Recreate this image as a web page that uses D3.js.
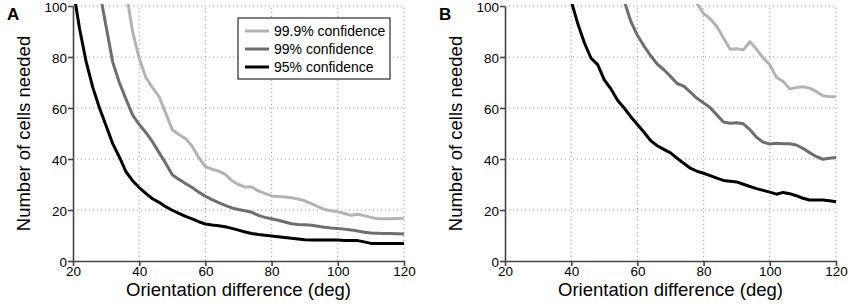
<!DOCTYPE html>
<html lang="en">
<head>
  <meta charset="UTF-8">
  <title>Cells needed vs orientation difference</title>
  <script src="https://d3js.org/d3.v7.min.js"></script>
  <style>
    body {
      margin: 0;
      background: #fff;
    }
    svg {
      display: block;
      font-family: "Liberation Sans", Arial, sans-serif;
    }
    .grid line {
      stroke: #9a9a9a;
      stroke-width: 1;
      stroke-dasharray: 1.2, 2.8;
    }
    .axis path, .axis line {
      stroke: #444;
      stroke-width: 1.6;
    }
    .axis text {
      font-size: 13.5px;
      fill: #000;
    }
  </style>
</head>
<body>
<svg width="851" height="307"></svg>

<script>
  // orientation difference (deg), shared by every series
  const angles = [20, 22, 24, 26, 28, 30, 32, 34, 36, 38, 40, 42, 44, 46, 48, 50, 52, 54, 56, 58,
                  60, 62, 64, 66, 68, 70, 72, 74, 76, 78, 80, 82, 84, 86, 88, 90, 92, 94, 96, 98,
                  100, 102, 104, 106, 108, 110, 112, 114, 116, 118, 120];

  const seriesNames = ["99.9% confidence", "99% confidence", "95% confidence"];
  const seriesColors = ["#b3b3b3", "#6e6e6e", "#000000"];

  const xTicks = [20, 40, 60, 80, 100, 120];
  const yTicks = [0, 20, 40, 60, 80, 100];

  // panel A
  const a999 = [null, null, null, null, null, null, null, null, 106, 90, 79.5, 72, 68, 64.5, 58, 51.5, 49.6, 48, 45, 40.5,
                37, 36, 35.3, 34, 31.5, 30, 29, 29, 27.5, 26.5, 25.5, 25.3, 25.1, 24.8, 24.3, 23.6, 22.5, 21.3, 20.2, 19.7,
                19.3, 18.6, 17.9, 18.3, 17.8, 17.1, 16.6, 16.6, 16.6, 16.7, 16.8];
  const a99 = [null, null, null, null, 106, 92, 78, 70, 63.5, 57.3, 53.5, 50.4, 46.8, 42.5, 38.3, 33.8, 32, 30.4, 28.8, 27,
               25.4, 24.1, 22.9, 21.8, 20.8, 20.2, 19.7, 19.1, 17.9, 17.1, 16.6, 16, 15.3, 14.6, 14.3, 14.2, 14, 13.6, 13.2, 12.9,
               12.7, 12.5, 12.2, 11.8, 11.3, 11, 10.9, 10.8, 10.8, 10.7, 10.6];
  const a95 = [107, 91, 78, 68, 60, 53, 46, 40.8, 35, 31.5, 28.8, 26.5, 24.4, 23, 21.3, 19.9, 18.7, 17.5, 16.5, 15.4,
               14.5, 14.1, 13.8, 13.4, 12.8, 12.1, 11.4, 10.8, 10.4, 10.1, 9.8, 9.5, 9.2, 8.9, 8.6, 8.3, 8.2, 8.2, 8.2, 8.2,
               8.2, 8.0, 8.0, 8.0, 7.5, 6.9, 6.9, 6.9, 6.9, 6.9, 6.9];

  // panel B
  const b999 = [null, null, null, null, null, null, null, null, null, null, null, null, null, null, null, null, null, null, null, null,
                null, null, null, null, null, null, null, null, null, 101, 97, 95, 92, 87.5, 83, 83.2, 82.8, 86, 83, 79.6,
                77, 72, 70.5, 67.5, 68, 68.3, 67.8, 66.5, 64.8, 64.5, 64.4];
  const b99 = [null, null, null, null, null, null, null, null, null, null, null, null, null, null, null, null, null, null, 102, 94,
               88.5, 84.3, 80.5, 77.2, 75, 72.4, 69.6, 68.6, 66.2, 63.8, 62, 60.1, 57.3, 54.5, 54, 54.2, 53.8, 51.5, 48.5, 46.6,
               45.9, 46.2, 46, 46, 45.5, 44.2, 42.5, 41, 39.9, 40.3, 40.6];
  const b95 = [null, null, null, null, null, null, null, null, null, null, 102, 93, 85.5, 79.5, 77, 71, 67.5, 63, 60, 56.6,
               53.5, 50.5, 47.2, 45.2, 43.8, 42.4, 40.3, 38.3, 36.4, 35.2, 34.4, 33.5, 32.5, 31.6, 31.3, 31, 30.1, 29.2, 28.4, 27.7,
               27, 26.2, 26.9, 26.4, 25.6, 24.6, 23.9, 23.9, 23.9, 23.6, 23.2];

  const svg = d3.select("svg");

  function drawPanel(left, letter, values, showLegend) {
    const x = d3.scaleLinear().domain([20, 120]).range([left, left + 331]);
    const y = d3.scaleLinear().domain([0, 100]).range([261, 6]);
    const g = svg.append("g");

    const clipId = "clip-" + letter;
    svg.append("clipPath").attr("id", clipId)
      .append("rect")
      .attr("x", x(20)).attr("y", y(100) - 2)
      .attr("width", x(120) - x(20) + 2).attr("height", y(0) - y(100) + 2);

    // dotted grid
    const grid = g.append("g").attr("class", "grid");
    grid.selectAll(".vg")
      .data(xTicks.slice(1))
      .enter()
      .append("line")
      .attr("x1", d => x(d)).attr("x2", d => x(d))
      .attr("y1", y(0)).attr("y2", y(100));
    grid.selectAll(".hg")
      .data(yTicks.slice(1))
      .enter()
      .append("line")
      .attr("x1", x(20)).attr("x2", x(120))
      .attr("y1", d => y(d)).attr("y2", d => y(d));

    // axes
    g.append("g")
      .attr("class", "axis")
      .attr("transform", `translate(0,${y(0)})`)
      .call(d3.axisBottom(x).tickValues(xTicks).tickSize(5).tickPadding(0).tickSizeOuter(0));
    g.append("g")
      .attr("class", "axis")
      .attr("transform", `translate(${x(20)},0)`)
      .call(d3.axisLeft(y).tickValues(yTicks).tickSize(5).tickPadding(1).tickSizeOuter(0))
      .selectAll("text")
      .attr("dy", "0.42em");

    // curves, lightest first so black sits on top
    const line = d3.line()
      .defined(d => d[1] !== null)
      .x(d => x(d[0]))
      .y(d => y(d[1]));

    values.forEach((vals, i) => {
      g.append("path")
        .datum(angles.map((a, j) => [a, vals[j]]))
        .attr("clip-path", `url(#${clipId})`)
        .attr("fill", "none")
        .attr("stroke", seriesColors[i])
        .attr("stroke-width", 3)
        .attr("stroke-linejoin", "round")
        .attr("d", line);
    });

    // axis titles
    g.append("text")
      .attr("x", (x(20) + x(120)) / 2)
      .attr("y", 296)
      .attr("text-anchor", "middle")
      .attr("font-size", "18.5px")
      .text("Orientation difference (deg)");

    g.append("text")
      .attr("transform", `translate(${left - 43},${(y(0) + y(100)) / 2}) rotate(-90)`)
      .attr("text-anchor", "middle")
      .attr("font-size", "18.5px")
      .text("Number of cells needed");

    // panel letter
    g.append("text")
      .attr("x", left - 66)
      .attr("y", 20)
      .attr("font-size", "17px")
      .attr("font-weight", "bold")
      .text(letter);

    if (showLegend) {
      const lg = g.append("g").attr("transform", `translate(${left + 165},18)`);
      lg.append("rect")
        .attr("width", 152).attr("height", 61)
        .attr("fill", "#fff")
        .attr("stroke", "#000")
        .attr("stroke-width", 1);
      seriesNames.forEach((name, i) => {
        const ry = 13 + i * 18;
        lg.append("line")
          .attr("x1", 7).attr("x2", 31)
          .attr("y1", ry).attr("y2", ry)
          .attr("stroke", seriesColors[i])
          .attr("stroke-width", 3);
        lg.append("text")
          .attr("x", 36).attr("y", ry + 5)
          .attr("font-size", "14px")
          .text(name);
      });
    }
  }

  drawPanel(73, "A", [a999, a99, a95], true);
  drawPanel(505, "B", [b999, b99, b95], false);
</script>

</body>
</html>
